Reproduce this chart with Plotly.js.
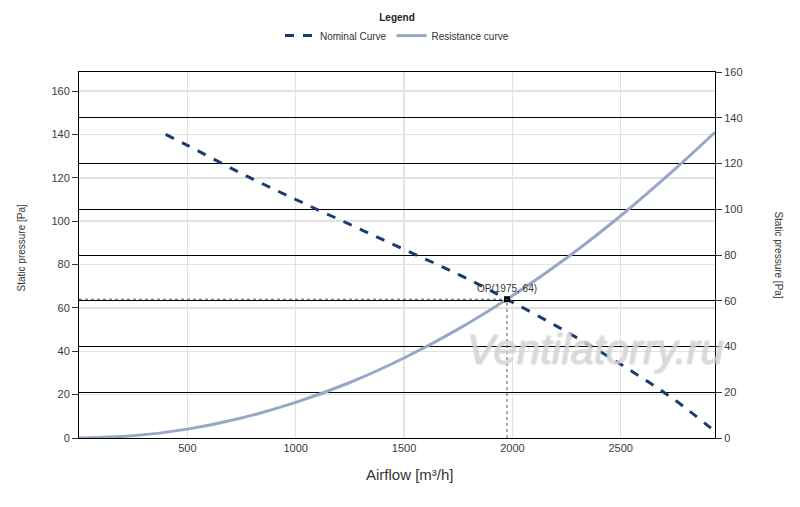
<!DOCTYPE html>
<html>
<head>
<meta charset="utf-8">
<script src="https://cdn.plot.ly/plotly-3.0.1.min.js"></script>
<style>
  html, body { margin: 0; padding: 0; background: #fff; }
  #chart { width: 800px; height: 507px; }
</style>
</head>
<body>
<div id="chart"></div>
<script>
// values
const nominalFlow = [400, 500, 750, 1000, 1250, 1500, 1750, 1975, 2250, 2500, 2750, 2935];
const nominalPressure = [140, 135, 122, 110, 98.5, 87, 75.5, 64, 49, 34, 17.5, 3];

const resistanceFlow = [0, 250, 500, 750, 1000, 1250, 1500, 1750, 2000, 2250, 2500, 2750, 2935];
const resistancePressure = [0, 1, 4.1, 9.2, 16.4, 25.6, 36.9, 50.2, 65.6, 83, 102.5, 124, 141];

const opFlow = 1975;
const opPressure = 64;

const xTicks = [500, 1000, 1500, 2000, 2500];

const tickFont = { family: "Liberation Sans, Arial, sans-serif", size: 11, color: "#3a3a3a" };

const traces = [
  {
    type: "scatter",
    mode: "lines",
    name: "Nominal Curve",
    x: nominalFlow,
    y: nominalPressure,
    line: { color: "#1b3a73", width: 3, dash: "dash", shape: "spline" },
  },
  {
    type: "scatter",
    mode: "lines",
    name: "Resistance curve",
    x: resistanceFlow,
    y: resistancePressure,
    line: { color: "#97a8c6", width: 3, shape: "spline" },
  },
  {
    type: "scatter",
    mode: "markers",
    x: [opFlow],
    y: [opPressure],
    showlegend: false,
    marker: { color: "#000", size: 6, symbol: "square" },
    hoverinfo: "skip",
  },
  {
    // invisible trace so the right axis is drawn
    type: "scatter",
    mode: "lines",
    x: [0],
    y: [0],
    yaxis: "y2",
    showlegend: false,
    hoverinfo: "skip",
    line: { color: "rgba(0,0,0,0)" },
  },
];

const layout = {
  width: 800,
  height: 507,
  margin: { l: 79, r: 85, t: 72, b: 69 },
  paper_bgcolor: "#fff",
  plot_bgcolor: "#fff",
  font: { family: "Liberation Sans, Arial, sans-serif", color: "#333" },
  showlegend: true,
  legend: {
    orientation: "h",
    x: 0.5,
    xanchor: "center",
    yref: "container",
    y: 0.984,
    yanchor: "top",
    font: { size: 10, color: "#333" },
    title: { text: "<b>Legend</b>", side: "top center", font: { size: 10, color: "#222" } },
    itemwidth: 30,
    tracegroupgap: 0,
  },
  xaxis: {
    range: [0, 2935],
    tickvals: xTicks,
    showgrid: true,
    gridcolor: "#e2e2e2",
    gridwidth: 1.5,
    zeroline: false,
    showline: true,
    linecolor: "#000",
    linewidth: 1,
    mirror: true,
    ticks: "",
    tickfont: tickFont,
    fixedrange: true,
  },
  yaxis: {
    range: [0, 168.8],
    tickvals: [0, 20, 40, 60, 80, 100, 120, 140, 160],
    showgrid: true,
    gridcolor: "#e2e2e2",
    gridwidth: 1.5,
    zeroline: false,
    showline: true,
    linecolor: "#000",
    linewidth: 1,
    ticks: "outside",
    ticklen: 6,
    tickcolor: "#333",
    tickfont: tickFont,
    fixedrange: true,
  },
  yaxis2: {
    overlaying: "y",
    side: "right",
    range: [0, 160],
    tickvals: [0, 20, 40, 60, 80, 100, 120, 140, 160],
    showgrid: true,
    gridcolor: "#000",
    gridwidth: 1,
    zeroline: false,
    showline: true,
    linecolor: "#000",
    linewidth: 1,
    ticks: "outside",
    ticklen: 6,
    tickcolor: "#333",
    tickfont: tickFont,
    fixedrange: true,
  },
  shapes: [
    {
      type: "line", xref: "x", yref: "y",
      x0: 0, x1: opFlow, y0: opPressure, y1: opPressure,
      line: { color: "#555", width: 1, dash: "dot" },
    },
    {
      type: "line", xref: "x", yref: "y",
      x0: opFlow, x1: opFlow, y0: 0, y1: opPressure,
      line: { color: "#555", width: 1, dash: "dot" },
    },
  ],
  annotations: [
    {
      text: "Ventilatorry.ru",
      xref: "paper", yref: "paper",
      x: 0.812, y: 0.243,
      xanchor: "center", yanchor: "middle",
      showarrow: false,
      font: {
        family: "Liberation Sans, Arial, sans-serif",
        size: 42,
        style: "italic",
        color: "rgba(255,255,255,0.35)",
        shadow: "1px 0 0 #b8b8b8, -1px 0 0 #b8b8b8, 0 1px 0 #b8b8b8, 0 -1px 0 #b8b8b8",
      },
    },
    {
      text: "OP(" + opFlow + ", " + opPressure + ")",
      x: opFlow, y: opPressure,
      xref: "x", yref: "y",
      showarrow: false,
      yshift: 11,
      font: { size: 10, color: "#333" },
    },
    {
      text: "Airflow [m³/h]",
      xref: "paper", yref: "paper",
      x: 0.52, y: -0.1,
      xanchor: "center", yanchor: "middle",
      showarrow: false,
      font: { size: 15, color: "#333" },
    },
    {
      text: "Static pressure [Pa]",
      xref: "paper", yref: "paper",
      x: -0.09, y: 0.52,
      xanchor: "center", yanchor: "middle",
      textangle: -90,
      showarrow: false,
      font: { size: 10, color: "#333" },
    },
    {
      text: "Static pressure [Pa]",
      xref: "paper", yref: "paper",
      x: 1.1, y: 0.5,
      xanchor: "center", yanchor: "middle",
      textangle: 90,
      showarrow: false,
      font: { size: 10, color: "#333" },
    },
  ],
};

Plotly.newPlot("chart", traces, layout, { displayModeBar: false, staticPlot: true });
</script>
</body>
</html>
